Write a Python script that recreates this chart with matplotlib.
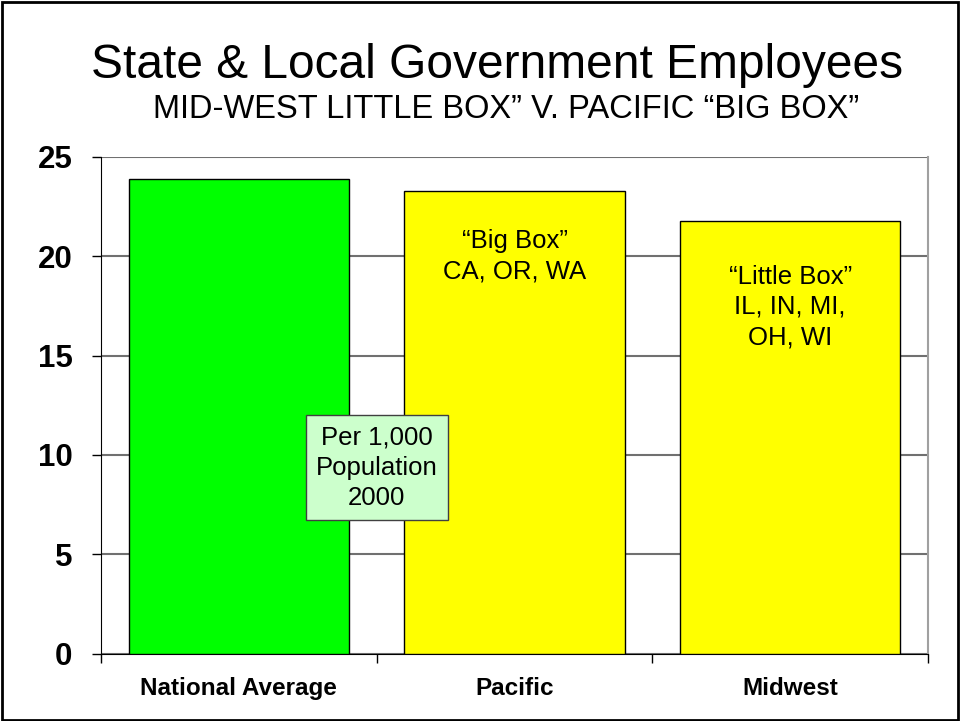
import matplotlib
matplotlib.use("Agg")
import matplotlib.pyplot as plt
from matplotlib.patches import Rectangle

categories = ["National Average", "Pacific", "Midwest"]
values = [23.9, 23.3, 21.8]
bar_colors = ["#00FF00", "#FFFF00", "#FFFF00"]
yticks = [0, 5, 10, 15, 20, 25]
title = "State & Local Government Employees"
subtitle = "MID-WEST LITTLE BOX\u201d V. PACIFIC \u201cBIG BOX\u201d"
bar_notes = ["", "\u201cBig Box\u201d\nCA, OR, WA", "\u201cLittle Box\u201d\nIL, IN, MI,\nOH, WI"]
note_y = [None, 20.0, 17.45]
box_text = "Per 1,000\nPopulation\n2000"

plt.rcParams['font.family'] = ['Liberation Sans', 'DejaVu Sans']

fig = plt.figure(figsize=(9.6, 7.21), dpi=100)
ax = fig.add_axes([101/960, 1-653.5/721, (928-101)/960, (653.5-157)/721])

x = list(range(len(categories)))
ax.bar(x, values, width=0.8, color=bar_colors, edgecolor="black", linewidth=1.0, zorder=3)

ax.set_xlim(-0.5, len(categories) - 0.5)
ax.set_ylim(0, 25)
ax.set_yticks(yticks)
ax.set_yticklabels([str(v) for v in yticks], fontsize=22.5, fontweight="bold")
ax.tick_params(axis="y", direction="out", length=6.5, width=1, pad=14, colors="black")
ax.yaxis.grid(True, color="#707070", linewidth=1.5, zorder=0)
ax.set_axisbelow(True)

# category boundaries as major ticks, labels at minor ticks
ax.set_xticks([i - 0.5 for i in range(len(categories) + 1)])
ax.set_xticklabels([])
ax.set_xticks(x, minor=True)
ax.set_xticklabels(categories, minor=True, fontsize=17.5, fontweight="bold", va="top")
ax.tick_params(axis="x", which="major", direction="out", length=6.5, width=1)
ax.tick_params(axis="x", which="minor", length=0, pad=17)

ax.spines["top"].set_visible(False)
ax.spines["right"].set_color("#A0A0A0")
ax.spines["right"].set_linewidth(1.5)
ax.spines["left"].set_color("black")
ax.spines["bottom"].set_color("black")

for xi, note, ny in zip(x, bar_notes, note_y):
    if note:
        ax.text(xi, ny, note, ha="center", va="center", fontsize=18.5,
                linespacing=1.32, zorder=5)

ax.text(0.5, 9.35, box_text, ha="center", va="center", fontsize=18.5, linespacing=1.32,
        zorder=6,
        bbox=dict(boxstyle="square,pad=0.4", facecolor="#CCFFCC", edgecolor="#404040", linewidth=1))

fig.text(497/960, 1-78/721, title, ha="center", va="baseline", fontsize=34.5)
fig.text(506/960, 1-118/721, subtitle, ha="center", va="baseline", fontsize=23.5)

fig.patches.append(Rectangle((0.002, 0.002), 0.996, 0.995, transform=fig.transFigure,
                             fill=False, edgecolor="black", linewidth=2))

fig.savefig("out.png", dpi=100)
